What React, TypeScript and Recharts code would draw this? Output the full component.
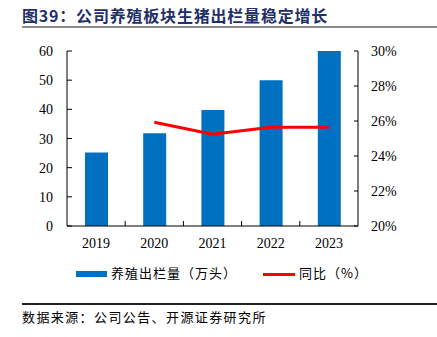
import React from 'react';
import { ComposedChart, Bar, Line, XAxis, YAxis } from 'recharts';

// values
const years = ['2019', '2020', '2021', '2022', '2023'];
const outputHeads = [25.2, 31.8, 39.8, 50, 60]; // 养殖出栏量（万头）
const yoyPct = [null, 25.93, 25.24, 25.64, 25.64]; // 同比（%）
const leftTicks = [0, 10, 20, 30, 40, 50, 60];
const rightTicks = [20, 22, 24, 26, 28, 30];

const data = years.map((year, i) => ({ year, output: outputHeads[i], yoy: yoyPct[i] }));

const SERIF = '"Liberation Serif", "Times New Roman", serif';
const CJK = '"Noto Sans CJK SC", "Noto Sans", sans-serif';
const BLUE = '#0070C0';
const RED = '#FF0000';

const LeftTick = (props: any) => {
  const { x, y, payload } = props;
  return (
    <g>
      <line x1={x + 14} x2={x + 19} y1={y} y2={y} stroke="#000" />
      <text x={x} y={y} dy={5} textAnchor="end" fontFamily={SERIF} fontSize={14} fill="#000">
        {payload.value}
      </text>
    </g>
  );
};

const RightTick = (props: any) => {
  const { x, y, payload } = props;
  return (
    <g>
      <line x1={x - 13} x2={x - 17} y1={y} y2={y} stroke="#000" />
      <text x={x} y={y} dy={5} textAnchor="start" fontFamily={SERIF} fontSize={14} fill="#000">
        {payload.value}%
      </text>
    </g>
  );
};

const YearTick = (props: any) => {
  const { x, y, payload, index } = props;
  return (
    <g>
      {index > 0 && <line x1={x - 29.1} x2={x - 29.1} y1={y - 11} y2={y - 16} stroke="#000" />}
      <text x={x} y={y} dy={11} textAnchor="middle" fontFamily={SERIF} fontSize={14} fill="#000">
        {payload.value}
      </text>
    </g>
  );
};

export default function App() {
  return (
    <div style={{ position: 'absolute', left: 0, top: 0, width: 437, height: 337, background: '#fff' }}>
      <div
        style={{
          position: 'absolute', left: 22, top: 3, fontFamily: CJK, fontSize: 16, fontWeight: 700,
          color: '#1F3068', letterSpacing: 0.8, whiteSpace: 'nowrap',
        }}
      >
        图39：公司养殖板块生猪出栏量稳定增长
      </div>
      <div style={{ position: 'absolute', left: 22, top: 26, width: 415, height: 1.5, background: '#8c8c8c' }} />

      <div style={{ position: 'absolute', left: 0, top: 0 }}>
        <ComposedChart width={437} height={260} data={data} margin={{ top: 51, right: 0, bottom: 0, left: 0 }}>
          <XAxis
            dataKey="year"
            height={34}
            tickSize={0}
            tickMargin={11}
            tick={<YearTick />}
            axisLine={{ stroke: '#000' }}
            interval={0}
          />
          <YAxis
            yAxisId="left"
            width={67}
            domain={[0, 60]}
            ticks={leftTicks}
            tickSize={0}
            tickMargin={14}
            tick={<LeftTick />}
            axisLine={{ stroke: '#000' }}
            interval={0}
          />
          <YAxis
            yAxisId="right"
            orientation="right"
            width={79}
            domain={[20, 30]}
            ticks={rightTicks}
            tickSize={0}
            tickMargin={13}
            tick={<RightTick />}
            axisLine={{ stroke: '#000' }}
            interval={0}
          />
          <Bar yAxisId="left" dataKey="output" fill={BLUE} barSize={23} isAnimationActive={false} />
          <Line
            yAxisId="right"
            dataKey="yoy"
            stroke={RED}
            strokeWidth={3}
            dot={false}
            activeDot={false}
            type="linear"
            isAnimationActive={false}
          />
        </ComposedChart>
      </div>

      <div style={{ position: 'absolute', left: 76, top: 271, width: 31, height: 6, background: BLUE }} />
      <div
        style={{
          position: 'absolute', left: 111, top: 264, fontFamily: CJK, fontSize: 13, color: '#000',
          letterSpacing: 1, whiteSpace: 'nowrap', lineHeight: '18px',
        }}
      >
        养殖出栏量（万头）
      </div>
      <div style={{ position: 'absolute', left: 263, top: 273, width: 32, height: 3, background: RED }} />
      <div
        style={{
          position: 'absolute', left: 299, top: 264, fontFamily: CJK, fontSize: 13, color: '#000',
          letterSpacing: 1, whiteSpace: 'nowrap', lineHeight: '18px',
        }}
      >
        同比（%）
      </div>

      <div style={{ position: 'absolute', left: 22, top: 303, width: 415, height: 1.5, background: '#222' }} />
      <div
        style={{
          position: 'absolute', left: 22, top: 308, fontFamily: CJK, fontSize: 13, color: '#000',
          letterSpacing: 1.4, whiteSpace: 'nowrap', lineHeight: '18px',
        }}
      >
        数据来源：公司公告、开源证券研究所
      </div>
    </div>
  );
}
